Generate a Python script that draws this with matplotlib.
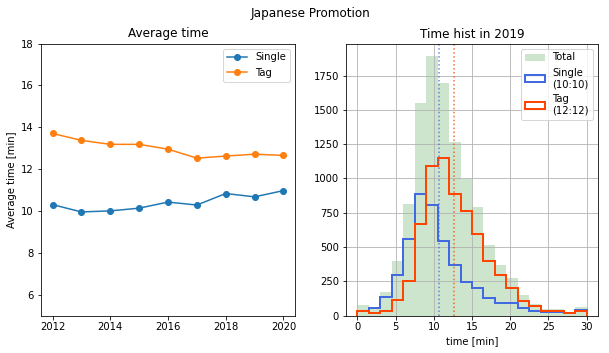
import numpy
from matplotlib import pyplot

# yearly averages [min]
years = [2012, 2013, 2014, 2015, 2016, 2017, 2018, 2019, 2020]
single_avg = [10.30, 9.95, 10.00, 10.13, 10.42, 10.28, 10.83, 10.67, 10.97]
tag_avg = [13.70, 13.37, 13.18, 13.18, 12.95, 12.52, 12.62, 12.71, 12.65]

# 2019 histogram, 20 bins from 0 to 30 min
bin_edges = numpy.linspace(0, 30, 21)
total_counts = [73, 50, 168, 401, 810, 1550, 1890, 1696, 1263, 998,
                788, 511, 372, 275, 153, 85, 49, 49, 24, 61]
single_counts = [36, 54, 134, 294, 557, 886, 805, 547, 365, 243,
                 202, 129, 90, 90, 54, 36, 24, 24, 17, 41]
tag_counts = [36, 17, 36, 114, 255, 664, 1088, 1148, 888, 766,
              591, 397, 292, 200, 105, 66, 32, 32, 17, 36]
single_mean = 10.65
tag_mean = 12.6
single_label = 'Single\n(10:10)'
tag_label = 'Tag\n(12:12)'

W, H = 609, 353
fig = pyplot.figure(figsize=(W / 72, H / 72), dpi=72)
fig.suptitle('Japanese Promotion', x=310 / W, y=1 - 13 / H, va='center')

ax1 = fig.add_axes([41 / W, 1 - 315.5 / H, 254 / W, 272 / H])
ax1.plot(years, single_avg, marker='o', label='Single')
ax1.plot(years, tag_avg, marker='o', label='Tag')
ax1.set_ylim(5, 18)
ax1.set_xticks([2012, 2014, 2016, 2018, 2020])
ax1.set_ylabel('Average time [min]')
ax1.set_title('Average time')
ax1.legend(loc='upper right')

ax2 = fig.add_axes([346 / W, 1 - 315.5 / H, 252 / W, 272 / H])
left_edges = bin_edges[:-1]
ax2.hist(left_edges, bins=bin_edges, weights=total_counts, color='green', alpha=0.2, label='Total')
ax2.hist(left_edges, bins=bin_edges, weights=single_counts, histtype='step', color='royalblue', linewidth=2, label=single_label)
ax2.hist(left_edges, bins=bin_edges, weights=tag_counts, histtype='step', color='orangered', linewidth=2, label=tag_label)
ax2.axvline(single_mean, color='royalblue', linestyle=':', alpha=0.8)
ax2.axvline(tag_mean, color='orangered', linestyle=':', alpha=0.8)
ax2.grid(True)
ax2.set_xlabel('time [min]')
ax2.set_title('Time hist in 2019')
ax2.legend(loc='upper right')

fig.savefig('out.png', dpi=72)
pyplot.close()
